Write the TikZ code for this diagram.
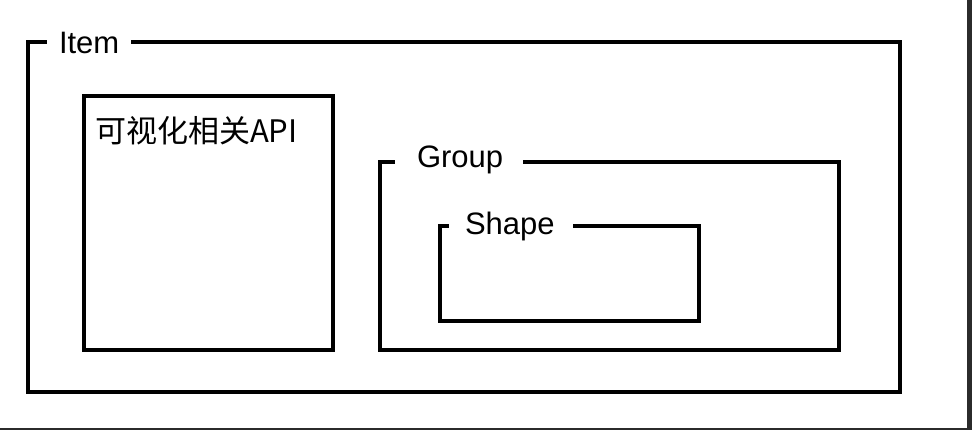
\documentclass[tikz,border=0pt]{standalone}
\usepackage{fontspec}
\setmainfont{Liberation Sans}
\newfontfamily\cjk{Noto Sans CJK SC}
\definecolor{framegray}{HTML}{2B2B2B}
\tikzset{
  frameline/.style={line width=4pt, line join=miter, draw=black},
  lbl/.style={inner sep=0pt, outer sep=0pt, anchor=base west, font=\fontsize{31}{37}\selectfont},
}
\begin{document}
\begin{tikzpicture}[x=1pt,y=-1pt]
\useasboundingbox (0,0) rectangle (972,430);
\fill[white] (0,0) rectangle (972,430);
% window edges
\fill[framegray] (967.3,0) rectangle (972,430);
\fill[framegray] (0,428) rectangle (972,430);

% Item frame
\coordinate (itemA) at (131,42.5);
\coordinate (itemB) at (47,42.5);
\draw[frameline] (itemA) -- (900.3,42.5) -- (900.3,391.5) -- (27.5,391.5) -- (27.5,42.5) -- (itemB);
\node[lbl] (item) at (59,54) {Item};

% API box
\node[frameline, draw, rectangle, minimum width=249pt, minimum height=253.2pt, inner sep=0pt] (api) at (208,223.1) {};
\node[lbl, font=\fontsize{31}{37}\selectfont\cjk] (apilabel) at (95,143) {可视化相关API};

% Group frame
\coordinate (groupA) at (523,162.5);
\coordinate (groupB) at (395,162.5);
\draw[frameline] (groupA) -- (838.7,162.5) -- (838.7,349.7) -- (379.5,349.7) -- (379.5,162.5) -- (groupB);
\node[lbl] (group) at (417,167.5) {Group};

% Shape frame
\coordinate (shapeA) at (573,226.3);
\coordinate (shapeB) at (449,226.3);
\draw[frameline] (shapeA) -- (698.8,226.3) -- (698.8,321.3) -- (440,321.3) -- (440,226.3) -- (shapeB);
\node[lbl] (shape) at (465,235) {Shape};
\end{tikzpicture}
\end{document}
